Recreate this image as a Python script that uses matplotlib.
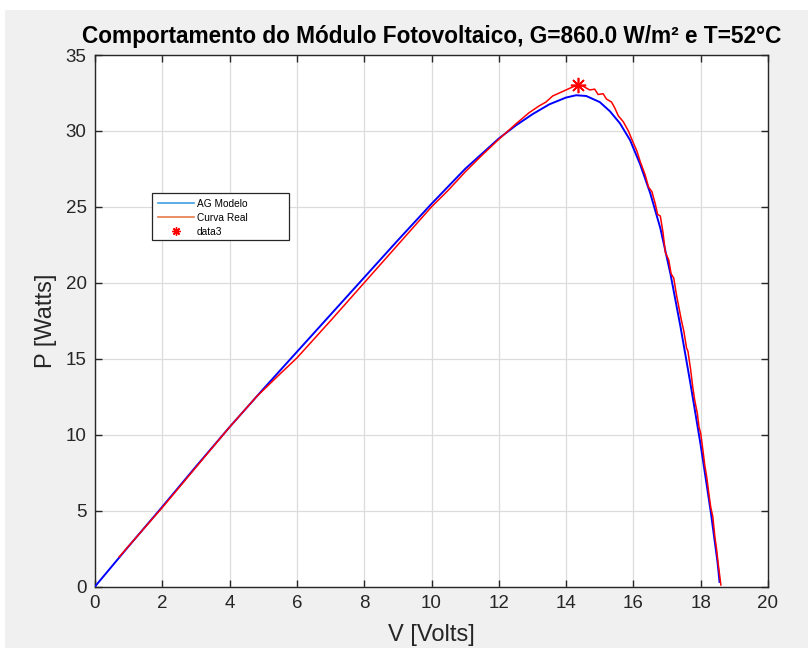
import matplotlib
matplotlib.use("Agg")
import matplotlib.pyplot as plt
from matplotlib.lines import Line2D
from matplotlib.patches import Rectangle

# ---- data ----
v_model = [0.0, 1.0, 2.0, 3.0, 4.0, 5.0, 6.0, 7.0, 8.0, 9.0, 10.0, 11.0, 12.0,
           12.5, 13.0, 13.5, 14.0, 14.3, 14.6, 15.0, 15.3, 15.6, 15.9, 16.2,
           16.5, 16.8, 17.1, 17.4, 17.7, 18.0, 18.3, 18.5, 18.56]
p_model = [0.0, 2.65, 5.25, 7.9, 10.5, 13.0, 15.45, 17.9, 20.35, 22.8, 25.2,
           27.5, 29.5, 30.35, 31.1, 31.75, 32.2, 32.35, 32.3, 31.9, 31.3, 30.5,
           29.4, 27.8, 25.9, 23.6, 20.6, 17.1, 13.3, 9.3, 4.9, 1.6, 0.3]

v_real = [0.72, 2.0, 3.0, 4.0, 4.8, 5.5, 6.0, 7.0, 8.0, 9.0, 10.0, 10.5, 11.0,
          11.5, 12.0, 12.5, 12.9, 13.2, 13.4, 13.6, 13.8, 14.0, 14.2, 14.34,
          14.5, 14.7, 14.85, 14.95, 15.1, 15.2, 15.35, 15.45, 15.55, 15.7,
          15.85, 16.0, 16.1, 16.2, 16.35, 16.45, 16.55, 16.65, 16.72, 16.8,
          16.88, 16.95, 17.05, 17.12, 17.2, 17.28, 17.35, 17.42, 17.5, 17.58,
          17.62, 17.7, 17.76, 17.82, 17.9, 17.95, 18.0, 18.07, 18.12, 18.18,
          18.25, 18.3, 18.36, 18.42, 18.47, 18.52, 18.56, 18.6]
p_real = [1.95, 5.2, 7.85, 10.5, 12.5, 14.0, 15.05, 17.5, 20.0, 22.5, 25.0,
          26.1, 27.3, 28.4, 29.45, 30.45, 31.2, 31.65, 31.9, 32.3, 32.5, 32.7,
          32.9, 33.0, 32.95, 32.7, 32.75, 32.4, 32.45, 32.1, 31.9, 31.5, 31.0,
          30.6, 30.0, 29.2, 28.7, 28.0, 27.1, 26.3, 26.0, 25.2, 24.5, 24.4,
          23.3, 22.0, 21.5, 20.6, 20.3, 19.2, 18.4, 17.6, 16.8, 15.7, 15.5,
          14.3, 13.2, 12.3, 11.4, 10.5, 10.1, 8.9, 8.0, 7.2, 6.0, 5.2, 4.6,
          3.3, 2.5, 1.5, 0.8, 0.1]

v_mpp = [14.34]
p_mpp = [33.0]

x_ticks = [0, 2, 4, 6, 8, 10, 12, 14, 16, 18, 20]
y_ticks = [0, 5, 10, 15, 20, 25, 30, 35]
legend_labels = ["AG Modelo", "Curva Real", "data3"]

title = "Comportamento do Módulo Fotovoltaico, G=860.0 W/m² e T=52°C"

plt.rcParams['font.family'] = ['Liberation Sans', 'DejaVu Sans']

fig = plt.figure(figsize=(8.08, 6.48), dpi=100, facecolor='white')
fig.patches.append(Rectangle((5 / 808, 0), 1, (648 - 10) / 648,
                             transform=fig.transFigure, facecolor='#f0f0f0',
                             edgecolor='none', zorder=-10))

ax = fig.add_axes([95 / 808, (648 - 586.5) / 648, (768 - 95) / 808, (586.5 - 55) / 648])
ax.set_facecolor('white')

asterisk = (8, 2, 0)
ax.plot(v_model, p_model, color='#0000ff', lw=1.4, zorder=3)
ax.plot(v_real, p_real, color='#ff0000', lw=1.1, zorder=4)
ax.plot(v_mpp, p_mpp, linestyle='none', marker=asterisk, color='#ff0000',
        markersize=11, mew=1.2, zorder=5)

ax.set_xlim(0, 20)
ax.set_ylim(0, 35)
ax.set_xticks(x_ticks)
ax.set_yticks(y_ticks)
ax.grid(True, color='#dcdcdc', lw=0.9)
ax.set_axisbelow(True)
for s in ax.spines.values():
    s.set_color('#262626')
    s.set_linewidth(1.0)
ax.tick_params(direction='in', length=5, width=1, colors='#262626',
               labelsize=13.5, top=True, right=True, pad=6)

ax.set_title(title, fontsize=16.3, fontweight='bold', color='black', pad=9)
ax.set_xlabel('V [Volts]', fontsize=17, color='#262626', labelpad=9)
ax.set_ylabel('P [Watts]', fontsize=17, color='#262626', labelpad=6)

# legend frame drawn explicitly to match the reference box size
lx0, lx1 = (152 - 95) / 673, (289 - 95) / 673
ly1, ly0 = (586.5 - 193) / 531.5, (586.5 - 240) / 531.5
ax.add_patch(Rectangle((lx0, ly0), lx1 - lx0, ly1 - ly0, transform=ax.transAxes,
                       facecolor='white', edgecolor='#262626', lw=0.9, zorder=6))

handles = [Line2D([], [], color='#3d9ee0', lw=1.2),
           Line2D([], [], color='#e8794a', lw=1.2),
           Line2D([], [], linestyle='none', marker=asterisk, color='#ff0000',
                  markersize=6, mew=1.0)]
leg = ax.legend(handles, legend_labels, loc='upper left',
                bbox_to_anchor=(lx0, ly1), fontsize=7.3, frameon=False,
                handlelength=3.6, handletextpad=0.3, labelspacing=0.4,
                borderpad=0.55, borderaxespad=0)
leg.set_zorder(7)

fig.savefig('out.png', dpi=100, facecolor=fig.get_facecolor())
